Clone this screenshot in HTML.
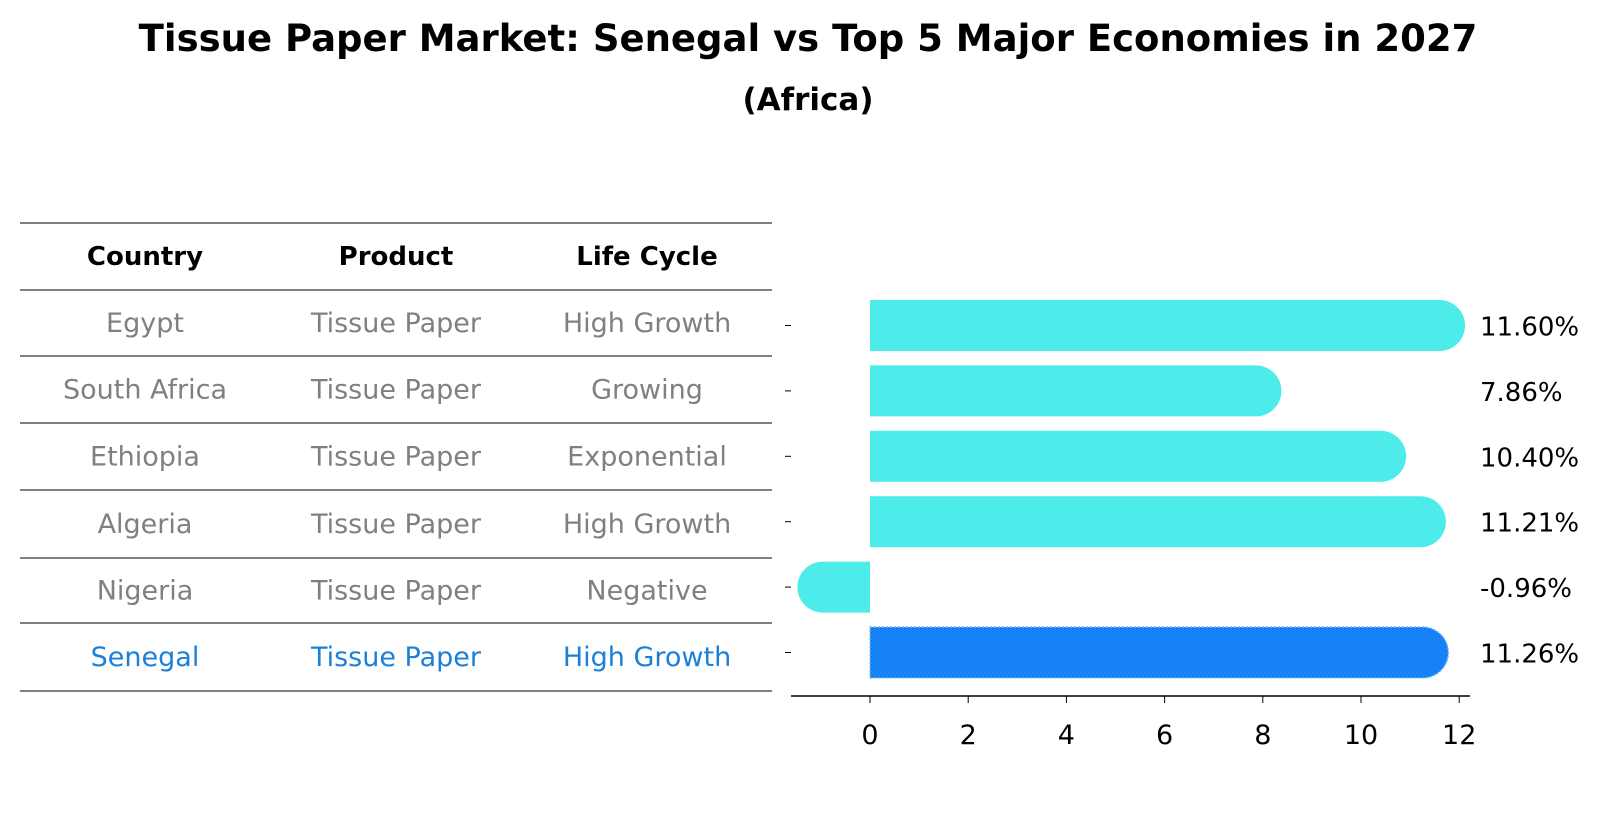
<!DOCTYPE html>
<html><head><meta charset="utf-8"><style>
body{margin:0;background:#fff;font-family:"Liberation Sans","DejaVu Sans",sans-serif}
#wrap{position:relative;width:1604px;height:823px;overflow:hidden}
</style></head><body>
<div id="wrap">
<svg width="1604" height="823" xmlns="http://www.w3.org/2000/svg">
<text x="808" y="51" text-anchor="middle" font-size="37" font-weight="bold" font-family="DejaVu Sans, sans-serif">Tissue Paper Market: Senegal vs Top 5 Major Economies in 2027</text>
<text x="808" y="110" text-anchor="middle" font-size="31" font-weight="bold" font-family="DejaVu Sans, sans-serif">(Africa)</text>
<g id="table"></g>
<g id="bars"></g>
</svg>
</div>
<script>
const countries=["Egypt","South Africa","Ethiopia","Algeria","Nigeria","Senegal"];
const products=["Tissue Paper","Tissue Paper","Tissue Paper","Tissue Paper","Tissue Paper","Tissue Paper"];
const lifeCycles=["High Growth","Growing","Exponential","High Growth","Negative","High Growth"];
const growth=[11.60,7.86,10.40,11.21,-0.96,11.26];
const tickVals=[0,2,4,6,8,10,12];
const NS="http://www.w3.org/2000/svg";
function mk(tag,attrs,parent){const e=document.createElementNS(NS,tag);for(const k in attrs)e.setAttribute(k,attrs[k]);parent.appendChild(e);return e;}
const tbl=document.getElementById('table');
const lineYs=[223,290,356,423,490,558,623,691];
lineYs.forEach((y,i)=>{const l=mk('line',{x1:20,x2:772,y1:y,y2:y,stroke:'#000','stroke-width':1},tbl);

});
const colX=[145,396,647];
["Country","Product","Life Cycle"].forEach((h,i)=>{const t=mk('text',{x:colX[i],y:265,'text-anchor':'middle','font-size':26,'font-weight':'bold','font-family':'DejaVu Sans, sans-serif'},tbl);t.textContent=h;

});
const rowY=i=>(lineYs[i+1]+lineYs[i+2])/2+9;
countries.forEach((c,i)=>{const col=i===countries.length-1?'#1a80d8':'#808080';
[c,products[i],lifeCycles[i]].forEach((v,j)=>{const t=mk('text',{x:colX[j],y:rowY(i),'text-anchor':'middle','font-size':27,fill:col,'font-family':'DejaVu Sans, sans-serif'},tbl);t.textContent=v;

});});
const bars=document.getElementById('bars');
const x=v=>870+v*49.1;
const yC=i=>325.5+i*65.4;
const H=51,R=25.5;
growth.forEach((v,i)=>{const cy=yC(i),top=cy-H/2,x0=x(0),x1=x(v);
const dir=v>=0?1:-1;
const d=`M${x0},${top} L${x1},${top} A${R},${R} 0 0 ${dir>0?1:0} ${x1},${top+H} L${x0},${top+H} Z`;
const sen=i===growth.length-1;
const p=mk('path',{d:d,fill:sen?'#1682f5':'#4deceb'},bars);
if(sen){p.setAttribute('stroke','#7fb8f7');p.setAttribute('stroke-width','1.5');p.setAttribute('stroke-dasharray','2,2');}


const t=mk('text',{x:1480,y:cy+10,'font-size':26,'font-family':'DejaVu Sans, sans-serif'},bars);t.textContent=v.toFixed(2)+'%';


const tk=mk('line',{x1:785,x2:791,y1:cy,y2:cy,stroke:'#000'},bars);

});
const ax=mk('line',{x1:791,x2:1470,y1:696,y2:696,stroke:'#000','stroke-width':1.5},bars);


tickVals.forEach(v=>{const l=mk('line',{x1:x(v),x2:x(v),y1:696,y2:703,stroke:'#000'},bars);


const t=mk('text',{x:x(v),y:744,'text-anchor':'middle','font-size':27,'font-family':'DejaVu Sans, sans-serif'},bars);t.textContent=v;

});
</script>
</body></html>
